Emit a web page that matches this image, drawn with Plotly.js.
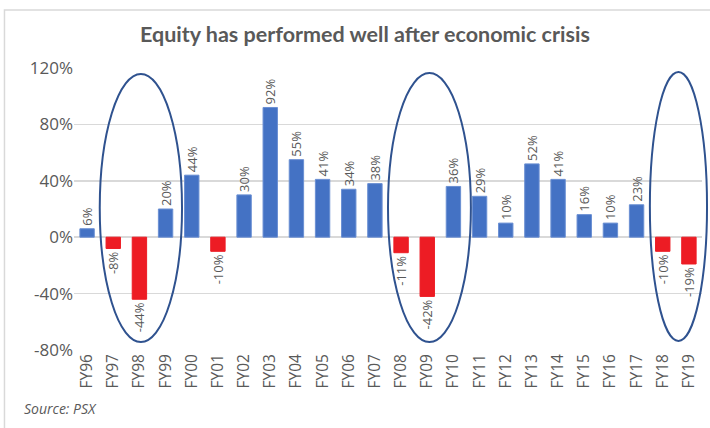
<!DOCTYPE html>
<html>
<head>
<meta charset="utf-8">
<script src="https://cdn.plot.ly/plotly-3.0.1.min.js"></script>
<style>html,body{margin:0;padding:0;background:#fff;}#chart{width:710px;height:428px;}</style>
</head>
<body>
<div id="chart"></div>
<script>
var years = ["FY96","FY97","FY98","FY99","FY00","FY01","FY02","FY03","FY04","FY05","FY06","FY07","FY08","FY09","FY10","FY11","FY12","FY13","FY14","FY15","FY16","FY17","FY18","FY19"];
var returns = [6,-8,-44,20,44,-10,30,92,55,41,34,38,-11,-42,36,29,10,52,41,16,10,23,-10,-19];
var yTicks = [-80,-40,0,40,80,120];
var yTickLabels = ["-80%","-40%","0%","40%","80%","120%"];
var titleText = "Equity has performed well after economic crisis";
var sourceText = "Source: PSX";

var colors = returns.map(function(v){ return v < 0 ? "#ED1C24" : "#4472C4"; });
var lineColors = returns.map(function(v){ return v < 0 ? "#ED1C24" : "#6A8FD3"; });

var trace = {
  type: "bar",
  x: years,
  y: returns,
  marker: {color: colors, line: {color: lineColors, width: 1}},
  text: returns.map(function(v){ return v + "%"; }),
  texttemplate: "%{text}",
  textposition: "outside",
  textangle: -90,
  constraintext: "none",
  cliponaxis: false,
  textfont: {family: "Open Sans, sans-serif", size: 13, color: "#595959"},
  hoverinfo: "none"
};

function ell(x0, x1, y0, y1) {
  return {type: "circle", xref: "paper", yref: "paper", x0: x0, x1: x1, y0: y0, y1: y1,
          line: {color: "#2F528F", width: 2}, fillcolor: "rgba(0,0,0,0)", layer: "above"};
}

var layout = {
  width: 710, height: 428,
  margin: {l: 74, r: 8, t: 68, b: 78},
  paper_bgcolor: "#fff", plot_bgcolor: "#fff",
  showlegend: false,
  bargap: 0.45,
  title: {text: "<b>" + titleText + "</b>", x: 0.514, xanchor: "center", y: 0.92, yanchor: "middle",
          font: {family: "Lato, sans-serif", size: 21.5, color: "#595959"}},
  xaxis: {type: "category", tickangle: -90, showgrid: false, zeroline: false, showline: false,
          ticks: "", tickfont: {family: "Open Sans, sans-serif", size: 15.5, color: "#595959"}},
  yaxis: {range: [-80, 120], tickmode: "array", tickvals: yTicks, ticktext: yTickLabels, showgrid: true, gridcolor: "#D9D9D9", gridwidth: 1.5,
          zeroline: true, zerolinecolor: "#D9D9D9", zerolinewidth: 1.5, showline: false, ticks: "",
          tickfont: {family: "Open Sans, sans-serif", size: 17, color: "#595959"}},
  shapes: [
    {type: "rect", xref: "paper", yref: "paper", x0: -0.1107, x1: 1.2, y0: -0.5, y1: 1.206,
     line: {color: "#D9D9D9", width: 1.5}, fillcolor: "rgba(0,0,0,0)", layer: "below"},
    ell(0.041, 0.172, 0.028, 0.979),
    ell(0.500, 0.632, 0.028, 0.982),
    ell(0.917, 1.008, 0.032, 0.986)
  ],
  annotations: [
    {text: "<i>" + sourceText + "</i>", xref: "paper", yref: "paper", x: -0.083, y: -0.206,
     xanchor: "left", yanchor: "middle", showarrow: false,
     font: {family: "Open Sans, sans-serif", size: 14, color: "#595959"}}
  ]
};

Plotly.newPlot("chart", [trace], layout, {staticPlot: true, displayModeBar: false});
</script>
</body>
</html>
